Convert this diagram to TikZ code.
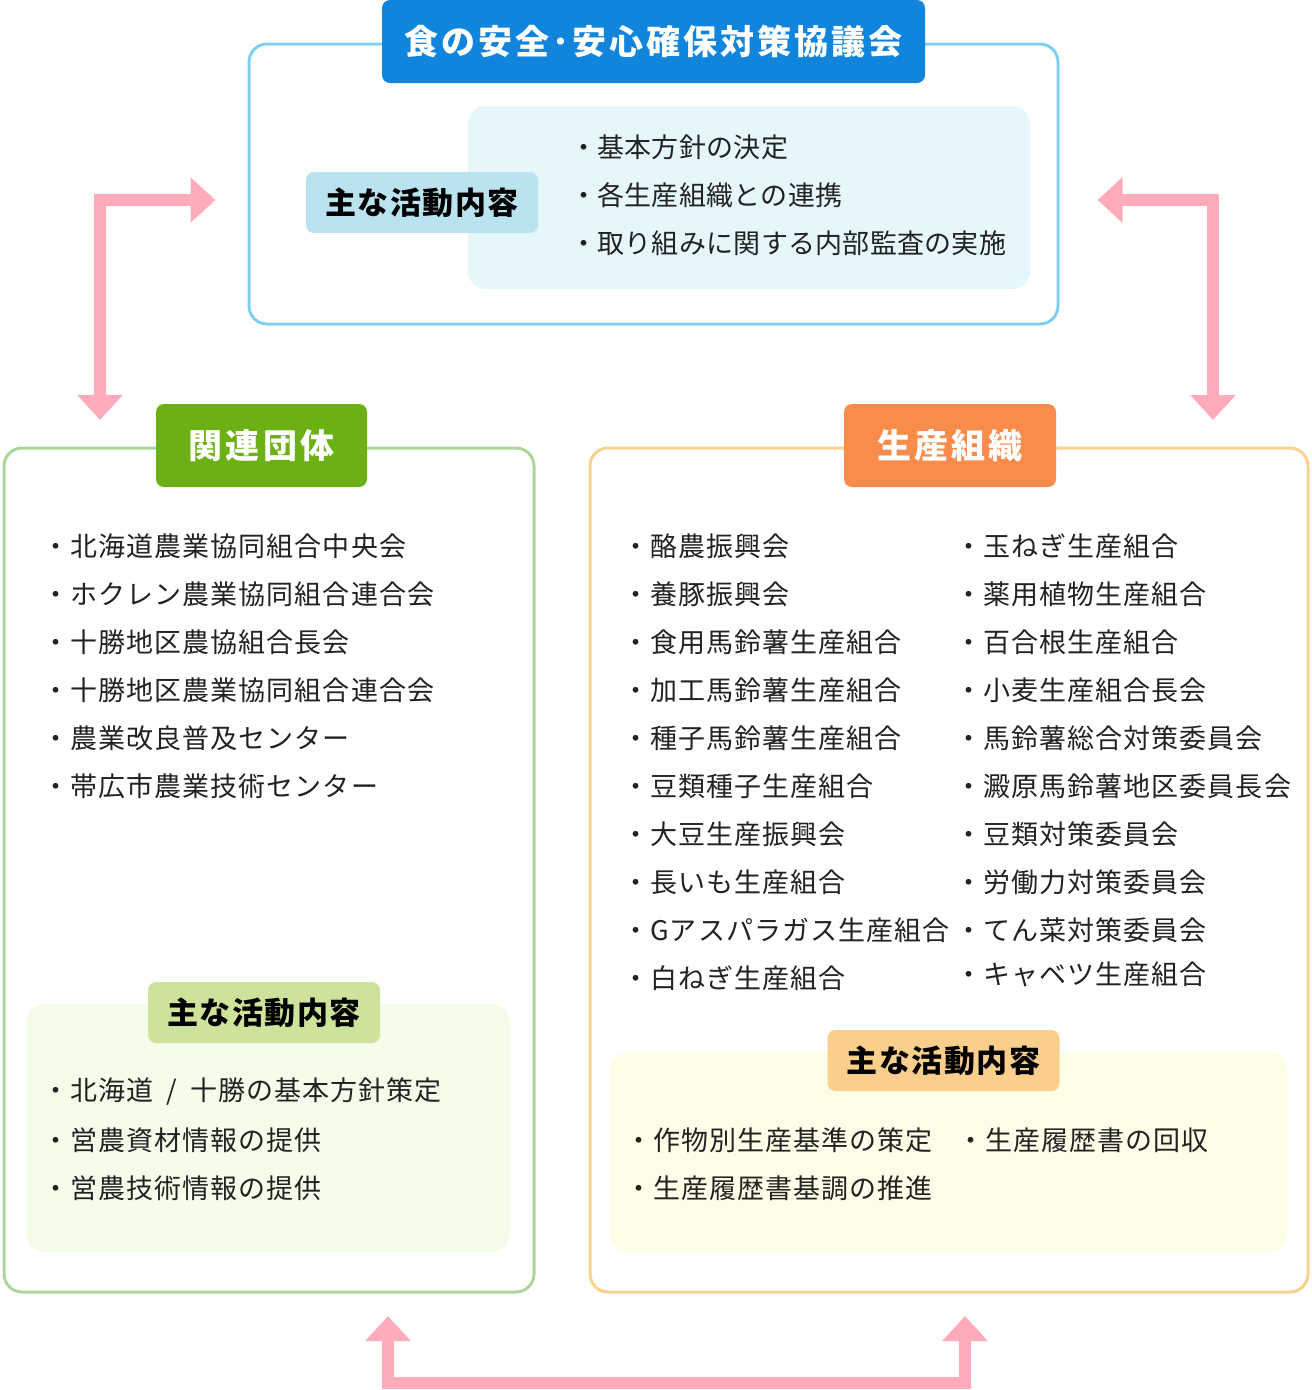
\documentclass[tikz,border=0pt]{standalone}
\usepackage{fontspec}
\setmainfont{Noto Sans CJK JP}
\usetikzlibrary{arrows.meta}
\definecolor{skBlue}{HTML}{1185DC}
\definecolor{skBlueLine}{HTML}{82CFF1}
\definecolor{skBluePale}{HTML}{E6F7FC}
\definecolor{skBlueTag}{HTML}{BAE3F0}
\definecolor{skGreen}{HTML}{6BB014}
\definecolor{skGreenLine}{HTML}{AAD798}
\definecolor{skGreenPale}{HTML}{F4FDE9}
\definecolor{skGreenTag}{HTML}{CDE29B}
\definecolor{skOrange}{HTML}{F98B4B}
\definecolor{skOrangeLine}{HTML}{F9D28F}
\definecolor{skOrangePale}{HTML}{FEFDE7}
\definecolor{skOrangeTag}{HTML}{F9CF8B}
\definecolor{skPink}{HTML}{FFABB9}
\definecolor{skInk}{HTML}{222222}

\begin{document}
\begin{tikzpicture}[x=1pt,y=-1pt,
  frame/.style={draw=#1,line width=3pt,rounded corners=18pt,fill=white},
  headbox/.style={fill=#1,rounded corners=8pt,text=white,
    font=\fontsize{34}{38}\selectfont\bfseries\addfontfeatures{LetterSpace=9}},
  panel/.style={fill=#1,rounded corners=18pt},
  tagbox/.style={fill=#1,rounded corners=8pt,text=black,
    font=\fontsize{31}{34}\selectfont\bfseries\addfontfeatures{LetterSpace=5},
    minimum width=232pt,minimum height=61pt},
  item/.style={anchor=west,inner sep=0pt,text=skInk,
    font=\fontsize{27}{30}\selectfont\addfontfeatures{LetterSpace=4}},
  topitem/.style={item,font=\fontsize{27}{30}\selectfont\addfontfeatures{LetterSpace=1}},
  link/.style={draw=skPink,line width=12pt,
    {Triangle[width=44pt,length=25pt]}-{Triangle[width=44pt,length=25pt]}}
]
  \useasboundingbox (0,0) rectangle (1312,1390);

  % council box
  \node[frame=skBlueLine,minimum width=809pt,minimum height=280pt] (council) at (653.5,184) {};
  \node[headbox=skBlue,minimum width=543pt,minimum height=83pt] (councilHead) at (653.5,41.5)
    {食の安全･安心確保対策協議会};
  \node[panel=skBluePale,minimum width=562pt,minimum height=183pt] (councilPanel) at (749,197.5) {};
  \node[tagbox=skBlueTag] (councilTag) at (422,202.5) {主な活動内容};
  \node[topitem] (councilA) at (570,147) {・基本方針の決定};
  \node[topitem] (councilB) at (570,195) {・各生産組織との連携};
  \node[topitem] (councilC) at (570,243) {・取り組みに関する内部監査の実施};

  % related groups
  \node[frame=skGreenLine,minimum width=530pt,minimum height=844pt] (kanren) at (269,870) {};
  \node[headbox=skGreen,minimum width=211pt,minimum height=83pt] (kanrenHead) at (261.5,445.5)
    {関連団体};
  \node[item] (kanrenA) at (42,546) {・北海道農業協同組合中央会};
  \node[item] (kanrenB) at (42,594) {・ホクレン農業協同組合連合会};
  \node[item] (kanrenC) at (42,642) {・十勝地区農協組合長会};
  \node[item] (kanrenD) at (42,690) {・十勝地区農業協同組合連合会};
  \node[item] (kanrenE) at (42,738) {・農業改良普及センター};
  \node[item] (kanrenF) at (42,786) {・帯広市農業技術センター};
  \node[panel=skGreenPale,minimum width=484pt,minimum height=248pt] (kanrenPanel) at (268,1128) {};
  \node[tagbox=skGreenTag] (kanrenTag) at (264,1012.5) {主な活動内容};
  \node[item] (kanrenG) at (42,1092)
    {・北海道\hspace{6pt} / \hspace{6pt}十勝の基本方針策定};
  \node[item] (kanrenH) at (42,1140) {・営農資材情報の提供};
  \node[item] (kanrenI) at (42,1188) {・営農技術情報の提供};

  % producer groups
  \node[frame=skOrangeLine,minimum width=718pt,minimum height=844pt] (seisan) at (949,870) {};
  \node[headbox=skOrange,minimum width=212pt,minimum height=83pt] (seisanHead) at (950,445.5)
    {生産組織};
  \node[item] (seisanA) at (622,546) {・酪農振興会};
  \node[item] (seisanB) at (622,594) {・養豚振興会};
  \node[item] (seisanC) at (622,642) {・食用馬鈴薯生産組合};
  \node[item] (seisanD) at (622,690) {・加工馬鈴薯生産組合};
  \node[item] (seisanE) at (622,738) {・種子馬鈴薯生産組合};
  \node[item] (seisanF) at (622,786) {・豆類種子生産組合};
  \node[item] (seisanG) at (622,834) {・大豆生産振興会};
  \node[item] (seisanH) at (622,882) {・長いも生産組合};
  \node[item] (seisanI) at (622,930) {・Gアスパラガス生産組合};
  \node[item] (seisanJ) at (622,978) {・白ねぎ生産組合};
  \node[item] (seisanK) at (955,546) {・玉ねぎ生産組合};
  \node[item] (seisanL) at (955,594) {・薬用植物生産組合};
  \node[item] (seisanM) at (955,642) {・百合根生産組合};
  \node[item] (seisanN) at (955,690) {・小麦生産組合長会};
  \node[item] (seisanO) at (955,738) {・馬鈴薯総合対策委員会};
  \node[item] (seisanP) at (955,786) {・澱原馬鈴薯地区委員長会};
  \node[item] (seisanQ) at (955,834) {・豆類対策委員会};
  \node[item] (seisanR) at (955,882) {・労働力対策委員会};
  \node[item] (seisanS) at (955,930) {・てん菜対策委員会};
  \node[item] (seisanT) at (955,974) {・キャベツ生産組合};
  \node[panel=skOrangePale,minimum width=677pt,minimum height=200pt] (seisanPanel) at (948.5,1152) {};
  \node[tagbox=skOrangeTag] (seisanTag) at (943.5,1060.5) {主な活動内容};
  \node[item] (seisanU) at (625,1140) {・作物別生産基準の策定};
  \node[item] (seisanV) at (957,1140) {・生産履歴書の回収};
  \node[item] (seisanW) at (625,1188) {・生産履歴書基調の推進};

  % connectors
  \coordinate (leftTop) at (council.west |- 0,200);
  \coordinate (leftEnd) at (100,420);
  \coordinate (rightTop) at (council.east |- 0,200);
  \coordinate (rightEnd) at (1213,420);
  \coordinate (lowLeft) at (388,1316);
  \coordinate (lowRight) at (965,1316);
  \path[link] ([xshift=-32pt]leftTop) -| (leftEnd);
  \path[link] ([xshift=38pt]rightTop) -| (rightEnd);
  \path[link] (lowLeft) -- ++(0,67) -| (lowRight);
\end{tikzpicture}
\end{document}
